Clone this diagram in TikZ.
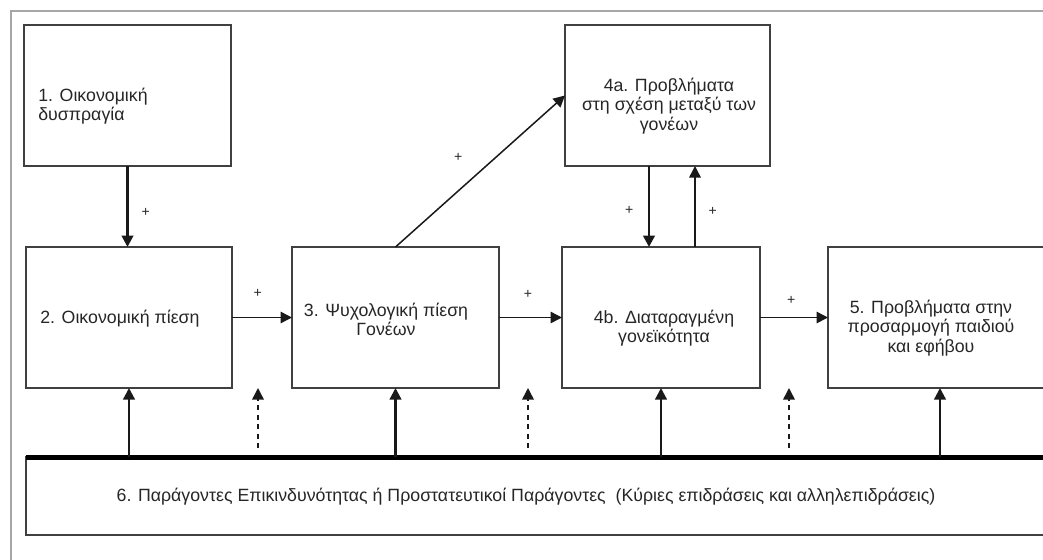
\documentclass[tikz,border=0pt]{standalone}
\usepackage{fontspec}
\setmainfont{Liberation Sans}
\usetikzlibrary{calc,arrows.meta}

\begin{document}
\begin{tikzpicture}[
        x=0.2mm,y=-0.2mm
        ,box/.style={draw=black!75,line width=0.3mm,minimum height=28.2mm,inner sep=0pt,outer sep=0pt}
        ,lbl/.style={font=\fontsize{10.1}{10.9}\selectfont,text=black!85,inner sep=0pt,align=center}
        ,plus/.style={font=\fontsize{8}{9}\selectfont,text=black!85,inner sep=1pt}
        ,arr/.style={-{Triangle[length=2.3mm,width=2.3mm]},draw=black!90,line width=0.3mm}
        ,thickarr/.style={arr,line width=0.55mm}
        ,dasharr/.style={arr,line width=0.3mm,dash pattern=on 1mm off 0.9mm}
    ]
    \useasboundingbox (0,0) rectangle (1043,559);
    \clip (0,0) rectangle (1043,559);
    % Πλαίσιο
    \draw[gray!70,line width=0.5mm] (11,11) rectangle (1080,600);
    % Κουτιά
    \node[box,minimum width=41.4mm] (b1) at (127.5,95.5) {};
    \node[box,minimum width=41.2mm] (b2) at (129,317.5) {};
    \node[box,minimum width=41.4mm] (b3) at (395.5,317.5) {};
    \node[box,minimum width=41mm] (b4a) at (667.5,95.5) {};
    \node[box,minimum width=39.6mm] (b4b) at (661,317.5) {};
    \node[box,minimum width=44.8mm] (b5) at (940,317.5) {};
    \node[box,minimum width=206.8mm,minimum height=15.6mm] (b6) at (543,496) {};
    \draw[line width=1mm] (b6.north west) -- (b6.north east);
    % Κείμενα
    \node[lbl,anchor=west,align=left] (t1) at (38,106) {1. Οικονομική\\δυσπραγία};
    \node[lbl,anchor=west] (t2) at (40,319) {2. Οικονομική πίεση};
    \node[lbl] (t3) at (386,319) {3. Ψυχολογική πίεση\\Γονέων};
    \node[lbl] (t4a) at (669,106) {4a. Προβλήματα\\στη σχέση μεταξύ των\\γονέων};
    \node[lbl] (t4b) at (664,328) {4b. Διαταραγμένη\\γονεϊκότητα};
    \node[lbl] (t5) at (931,328) {5. Προβλήματα στην\\προσαρμογή παιδιού\\και εφήβου};
    \node[lbl] (t6) at (526,497) {6. Παράγοντες Επικινδυνότητας ή Προστατευτικοί Παράγοντες~ (Κύριες επιδράσεις και αλληλεπιδράσεις)};
    % Βέλη
    \draw[thickarr] (b1.south) -- (b1.south |- b2.north) node[plus,pos=0.57,right=2.2mm] {+};
    \draw[arr] (b2.east) -- (b3.west) node[plus,pos=0.43,above=3.4mm] {+};
    \draw[arr] (b3.north) -- (b4a.west) node[plus,pos=0.37,above=5.4mm] {+};
    \draw[arr] (b3.east) -- (b4b.west) node[plus,pos=0.46,above=3.3mm] {+};
    \draw[arr] (b4b.east) -- (b5.west) node[plus,pos=0.46,above=2mm] {+};
    \coordinate (p1) at ($(b4a.south)+(-18.5,0)$);
    \coordinate (p2) at ($(b4a.south)+(27.5,0)$);
    \draw[thickarr] (p1) -- (p1 |- b4b.north) node[plus,pos=0.55,left=2.5mm] {+};
    \draw[arr] (p2 |- b4b.north) -- (p2) node[plus,pos=0.44,right=2.2mm] {+};
    % Από τον παράγοντα 6
    \foreach \b in {b2,b3,b4b,b5}
        \draw[arr,line width=0.45mm] (\b.south |- b6.north) -- (\b.south);
    \coordinate (d1) at (258,448);
    \coordinate (d2) at (528,448);
    \coordinate (d3) at (789,448);
    \foreach \d in {d1,d2,d3}
        \draw[dasharr] (\d) -- (\d |- b2.south);
\end{tikzpicture}
\end{document}
